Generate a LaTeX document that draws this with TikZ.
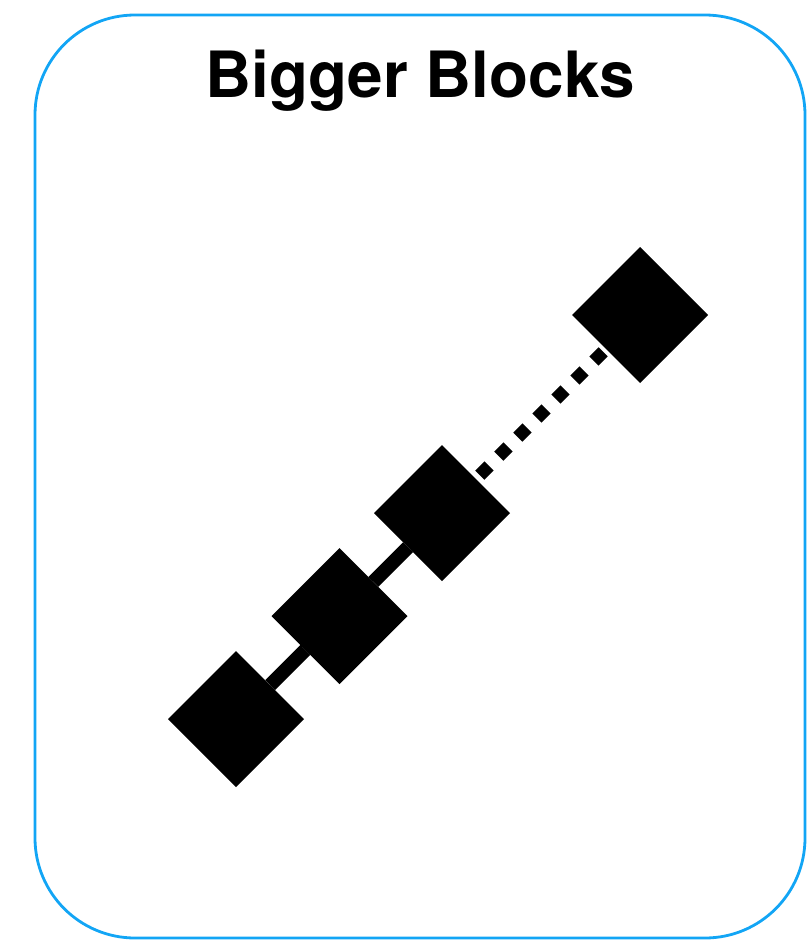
\documentclass[tikz,border=0pt]{standalone}
\usepackage{fontspec}
\setmainfont{TeX Gyre Heros}
\usetikzlibrary{shapes.geometric}
\definecolor{frameblue}{HTML}{12A5F5}
\tikzset{
  px/.style={x=1pt,y=-1pt},
  block/.style={diamond,fill=black,draw=none,inner sep=0pt,outer sep=0pt,minimum width=136pt,minimum height=136pt},
  solidlink/.style={line width=14pt,black},
  dotlink/.style={line width=13pt,black,dash pattern=on 13pt off 13.9pt,dash phase=21.5pt},
  frame/.style={draw=frameblue,line width=2.8pt,rounded corners=100pt},
  title/.style={font=\bfseries\fontsize{63.8}{70}\selectfont,anchor=base}
}
\begin{document}
\begin{tikzpicture}[px]
\useasboundingbox (0,0) rectangle (807,940);
\draw[frame] (35,15) rectangle (805,938);
\node[title] (t) at (420,97) {Bigger Blocks};
\node[block] (b1) at (236,719) {};
\node[block] (b2) at (339.5,616) {};
\node[block] (b3) at (442,513) {};
\node[block] (b4) at (640,315) {};
\draw[solidlink] (b1) -- (b2);
\draw[solidlink] (b2) -- (b3);
\draw[dotlink] (b3) -- (b4);
\end{tikzpicture}
\end{document}
